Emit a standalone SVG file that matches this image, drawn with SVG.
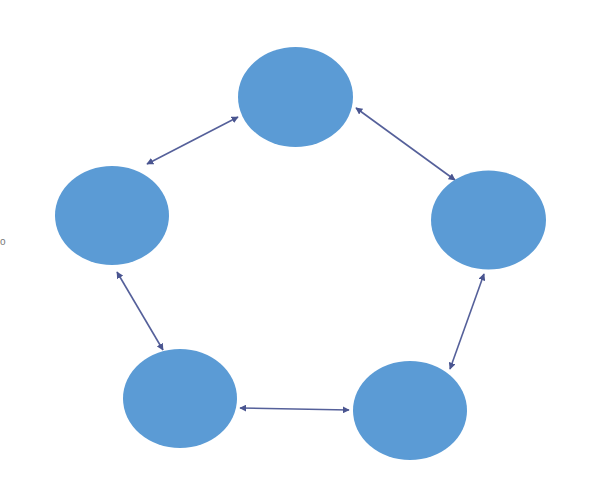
<svg xmlns="http://www.w3.org/2000/svg" width="604" height="490" viewBox="0 0 604 490">
<defs>
<style>
.node{fill:#5B9BD5;}
.conn{stroke:#55609a;stroke-width:1.6;fill:none;marker-start:url(#ah);marker-end:url(#ah);}
.frag{font-family:"Liberation Sans",Arial,sans-serif;font-size:10px;fill:#777;}
</style>
<marker id="ah" viewBox="0 0 10 10" refX="9" refY="5" markerWidth="7" markerHeight="7" orient="auto-start-reverse" markerUnits="userSpaceOnUse">
<path d="M0,0 L10,5 L0,10 z" fill="#4a5590"/>
</marker>
</defs>
<rect width="604" height="490" fill="#ffffff"/>
<text class="frag" x="0" y="245">o</text>
<g id="connectors">
<line class="conn" x1="238" y1="117" x2="147" y2="164"/>
<line class="conn" x1="356" y1="108" x2="455" y2="180"/>
<line class="conn" x1="117" y1="272" x2="163" y2="350"/>
<line class="conn" x1="240" y1="408" x2="349" y2="410"/>
<line class="conn" x1="484" y1="274" x2="450" y2="369"/>
</g>
<g id="node-top"><ellipse class="node" cx="295.5" cy="97" rx="57.5" ry="50"/></g>
<g id="node-left"><ellipse class="node" cx="112" cy="215.5" rx="57" ry="49.5"/></g>
<g id="node-right"><ellipse class="node" cx="488.5" cy="220" rx="57.5" ry="49.5"/></g>
<g id="node-bottom-left"><ellipse class="node" cx="180" cy="398.5" rx="57" ry="49.5"/></g>
<g id="node-bottom-right"><ellipse class="node" cx="410" cy="410.5" rx="57" ry="49.5"/></g>
</svg>
